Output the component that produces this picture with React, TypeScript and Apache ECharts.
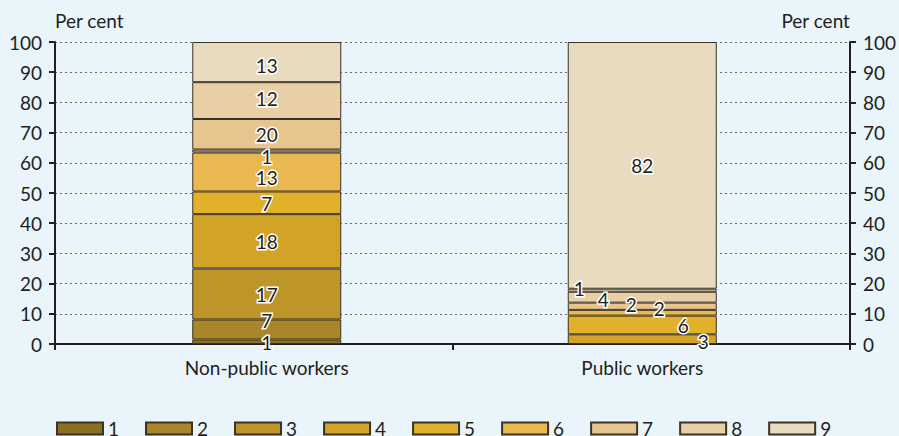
import React, { useEffect, useRef } from "react";
import * as echarts from "echarts";

const categories = ["Non-public workers", "Public workers"];
const legendNames = ["1", "2", "3", "4", "5", "6", "7", "8", "9"];

// drawn segment heights (per cent), bottom to top; null = no segment
const s1 = [1.5, null];
const s2 = [6.6, null];
const s3 = [16.9, null];
const s4 = [18, 3.2];
const s5 = [7.5, 6.2];
const s6 = [12.9, 1.9];
const sThinA = [1, null];
const s7 = [10.1, 2.4];
const s8 = [12.2, 3.6];
const sThinB = [null, 1];
const s9 = [13.3, 81.7];

// printed data labels
const l1 = ["1", ""];
const l2 = ["7", ""];
const l3 = ["17", ""];
const l4 = ["18", "3"];
const l5 = ["7", "6"];
const l6 = ["13", "2"];
const lThinA = ["1", ""];
const l7 = ["20", "2"];
const l8 = ["12", "4"];
const lThinB = ["", "1"];
const l9 = ["13", "82"];

const FONT = "Lato";
const TEXT = "#231f20";
const FS = 19;

type Def = {
  name: string;
  values: (number | null)[];
  labels: string[];
  color: string;
  offsets: [number, number][];
};

const defs: Def[] = [
  { name: "1", values: s1, labels: l1, color: "#8C7022", offsets: [[0, 1], [0, 0]] },
  { name: "2", values: s2, labels: l2, color: "#A9862A", offsets: [[0, -9], [0, 0]] },
  { name: "3", values: s3, labels: l3, color: "#BE9528", offsets: [[0, 0], [0, 0]] },
  { name: "4", values: s4, labels: l4, color: "#D1A326", offsets: [[0, 0], [61, 2]] },
  { name: "5", values: s5, labels: l5, color: "#E2B12B", offsets: [[0, 1], [41, 1]] },
  { name: "6", values: s6, labels: l6, color: "#E9B850", offsets: [[0, 5], [17, -4]] },
  { name: "thinA", values: sThinA, labels: lThinA, color: "#CDB48A", offsets: [[0, 5], [0, 0]] },
  { name: "7", values: s7, labels: l7, color: "#E8C48E", offsets: [[0, 0], [-11, -2]] },
  { name: "8", values: s8, labels: l8, color: "#E8CFA6", offsets: [[0, -2], [-39, 2]] },
  { name: "thinB", values: sThinB, labels: lThinB, color: "#E8D8B8", offsets: [[0, 0], [-63, -2]] },
  { name: "9", values: s9, labels: l9, color: "#E9DBC0", offsets: [[0, 3], [0, 0]] },
];

export default function App() {
  const ref = useRef<HTMLDivElement>(null);
  useEffect(() => {
    document.body.style.margin = "0";
    const chart = echarts.init(ref.current!, null, { renderer: "svg" });
    const series = defs.map((d) => ({
      name: d.name,
      type: "bar",
      stack: "total",
      xAxisIndex: 1,
      yAxisIndex: 2,
      barWidth: 149,
      itemStyle: { color: d.color, borderColor: "#3a3226", borderWidth: 1 },
      data: d.values.map((v, i) =>
        v === null
          ? "-"
          : {
              value: v,
              label: {
                show: d.labels[i] !== "",
                formatter: () => d.labels[i],
                offset: d.offsets[i],
              },
            }
      ),
      label: {
        position: "inside",
        fontFamily: FONT,
        fontSize: FS,
        color: TEXT,
        textBorderColor: "#ffffff",
        textBorderWidth: 3,
      },
    }));
    chart.setOption({
      animation: false,
      backgroundColor: "#E9F4FB",
      textStyle: { fontFamily: FONT, color: TEXT },
      grid: [
        { left: 55, right: 45, top: 42, bottom: 92 },
        { left: 79, right: 69, top: 42, bottom: 92 },
      ],
      legend: {
        data: legendNames,
        left: 56,
        top: 419,
        padding: 0,
        itemWidth: 46,
        itemHeight: 12,
        itemGap: 26,
        icon: "rect",
        textStyle: { fontFamily: FONT, fontSize: FS, color: TEXT },
      },
      xAxis: [
        {
          type: "category",
          gridIndex: 0,
          data: categories,
          axisLine: { lineStyle: { color: TEXT, width: 2 } },
          axisTick: { show: true, length: 6, lineStyle: { color: TEXT, width: 2 } },
          axisLabel: { show: false },
        },
        {
          type: "category",
          gridIndex: 1,
          data: categories,
          axisLine: { show: false },
          axisTick: { show: false },
          axisLabel: { margin: 14, fontFamily: FONT, fontSize: FS, color: TEXT },
        },
      ],
      yAxis: [
        {
          type: "value",
          gridIndex: 0,
          position: "left",
          min: 0,
          max: 100,
          interval: 10,
          name: "Per cent",
          nameLocation: "end",
          nameGap: 12,
          nameTextStyle: { align: "left", fontFamily: FONT, fontSize: FS, color: TEXT },
          axisLine: { show: true, lineStyle: { color: TEXT, width: 2 } },
          axisTick: { show: true, length: 6, lineStyle: { color: TEXT, width: 2 } },
          axisLabel: { margin: 13, fontFamily: FONT, fontSize: FS, color: TEXT },
          splitLine: { show: true, lineStyle: { color: "#6a6a6a", type: [2, 3], width: 1 } },
        },
        {
          type: "value",
          gridIndex: 0,
          position: "right",
          min: 0,
          max: 100,
          interval: 10,
          name: "Per cent",
          nameLocation: "end",
          nameGap: 12,
          nameTextStyle: { align: "right", fontFamily: FONT, fontSize: FS, color: TEXT },
          axisLine: { show: true, lineStyle: { color: TEXT, width: 2 } },
          axisTick: { show: true, length: 6, lineStyle: { color: TEXT, width: 2 } },
          axisLabel: { margin: 13, fontFamily: FONT, fontSize: FS, color: TEXT },
          splitLine: { show: false },
        },
        {
          type: "value",
          gridIndex: 1,
          min: 0,
          max: 100,
          show: false,
        },
      ],
      series,
    });
    return () => chart.dispose();
  }, []);
  return <div ref={ref} style={{ width: 899, height: 436 }} />;
}
